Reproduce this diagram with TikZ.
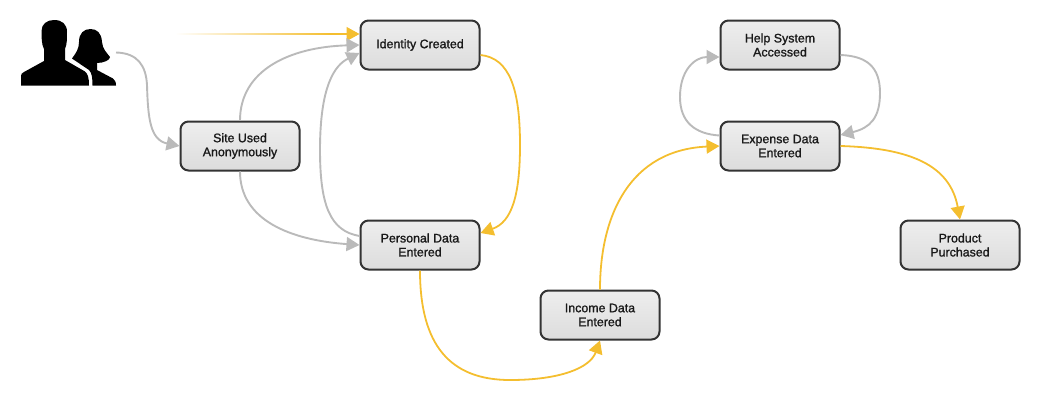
\documentclass[tikz,border=0pt]{standalone}
\usepackage{fontspec}
\setmainfont{Liberation Sans}
\newfontfamily\lblfont[FakeBold=1.2]{Liberation Sans}
\usetikzlibrary{arrows.meta}
\definecolor{ygold}{HTML}{F4BE2F}
\definecolor{lgray}{HTML}{BABABA}
\definecolor{bdr}{HTML}{333333}
\definecolor{boxtop}{HTML}{EEEEEE}
\definecolor{boxbot}{HTML}{DCDCDC}
\tikzset{
  x=1pt,y=-1pt,
  stagebox/.style={draw=bdr,line width=2pt,rounded corners=8pt,minimum width=119pt,minimum height=49pt,inner sep=0pt,top color=boxtop,bottom color=boxbot,align=center,font=\lblfont\fontsize{12.4}{14}\selectfont,text=black!90,execute at begin node=\vspace*{2pt}},
  grayflow/.style={draw=lgray,line width=1.9pt,-{Triangle[length=13pt,width=14pt,fill=lgray]}},
  goldflow/.style={draw=ygold,line width=1.8pt,-{Triangle[length=13pt,width=14pt,fill=ygold]}},
}
\begin{document}
\begin{tikzpicture}
\useasboundingbox (0,0) rectangle (1046,405);
\node[stagebox] (identity) at (420,45) {Identity Created};
\node[stagebox] (site) at (240,146) {Site Used\\Anonymously};
\node[stagebox] (personal) at (420,245) {Personal Data\\Entered};
\node[stagebox] (income) at (600,315) {Income Data\\Entered};
\node[stagebox] (expense) at (780,146) {Expense Data\\Entered};
\node[stagebox] (help) at (780,45) {Help System\\Accessed};
\node[stagebox] (product) at (960,245) {Product\\Purchased};
% users icon
\fill[black] (92.5,85.5) .. controls (92.5,78) and (92,73) .. (89,70) -- (72,58.5) .. controls (76,53) and (79,49) .. (79,42) .. controls (79,33) and (84,29) .. (90.5,29) .. controls (97,29) and (101.5,33) .. (102,42) .. controls (102.5,49) and (107,53) .. (110,57) .. controls (110,60) and (104,63) .. (97,63) -- (97,70) -- (113,78.5) .. controls (115,80) and (116,82) .. (116,85.5) -- cycle;
\fill[black] (21,85.5) -- (21,76) .. controls (21,74) and (22,73) .. (24,72) -- (44,61) -- (44,49) .. controls (41.5,45) and (41.5,36) .. (41.5,31) .. controls (41.5,24) and (47,20) .. (54,20) .. controls (62,20) and (67,24) .. (67,32) .. controls (67,38) and (67,45) .. (65,49) -- (65,60) -- (85,71.5) .. controls (88,74) and (89,78) .. (89,85.5) -- cycle;
\coordinate (iconout) at (116,52.5);
\path (identity.west) ++(-30,-11) coordinate (fadeend);
% fading entry
\shade[left color=white,right color=ygold] (175,33.3) rectangle (331,34.7);
\draw[goldflow,line width=1.4pt] (fadeend) -- (identity.west |- fadeend);
% gray flows
\draw[grayflow] (iconout) .. controls (138,53) and (146,66) .. (147,85) .. controls (148,118) and (150,140) .. (site.west);
\draw[grayflow] (site.north) .. controls (240,70) and (290,47) .. (identity.west);
\draw[grayflow] ([yshift=9pt]personal.west) .. controls (330,231) and (320,205) .. (320,150) .. controls (320,85) and (335,65) .. ([yshift=-8pt]identity.west);
\draw[grayflow] (site.south) .. controls (240,220) and (290,240) .. (personal.west);
\draw[grayflow] ([yshift=10.5pt]expense.west) .. controls (695,134) and (680,122) .. (680,97) .. controls (680,70) and (695,57) .. ([yshift=-12pt]help.west);
\draw[grayflow] ([yshift=-10pt]help.east) .. controls (868,56) and (880,68) .. (880,93) .. controls (880,118) and (870,128) .. ([yshift=11pt]expense.east);
% gold flows
\draw[goldflow] ([yshift=-10pt]identity.east) .. controls (510,58) and (520,90) .. (520,145) .. controls (520,195) and (512,222) .. ([yshift=12pt]personal.east);
\draw[goldflow] (personal.south) .. controls (420,345) and (450,380) .. (510,380) .. controls (560,380) and (590,368) .. (income.south);
\draw[goldflow] (income.north) .. controls (600,215) and (630,150) .. (expense.west);
\draw[goldflow] (expense.east) .. controls (910,148) and (950,165) .. (product.north);
\end{tikzpicture}
\end{document}
